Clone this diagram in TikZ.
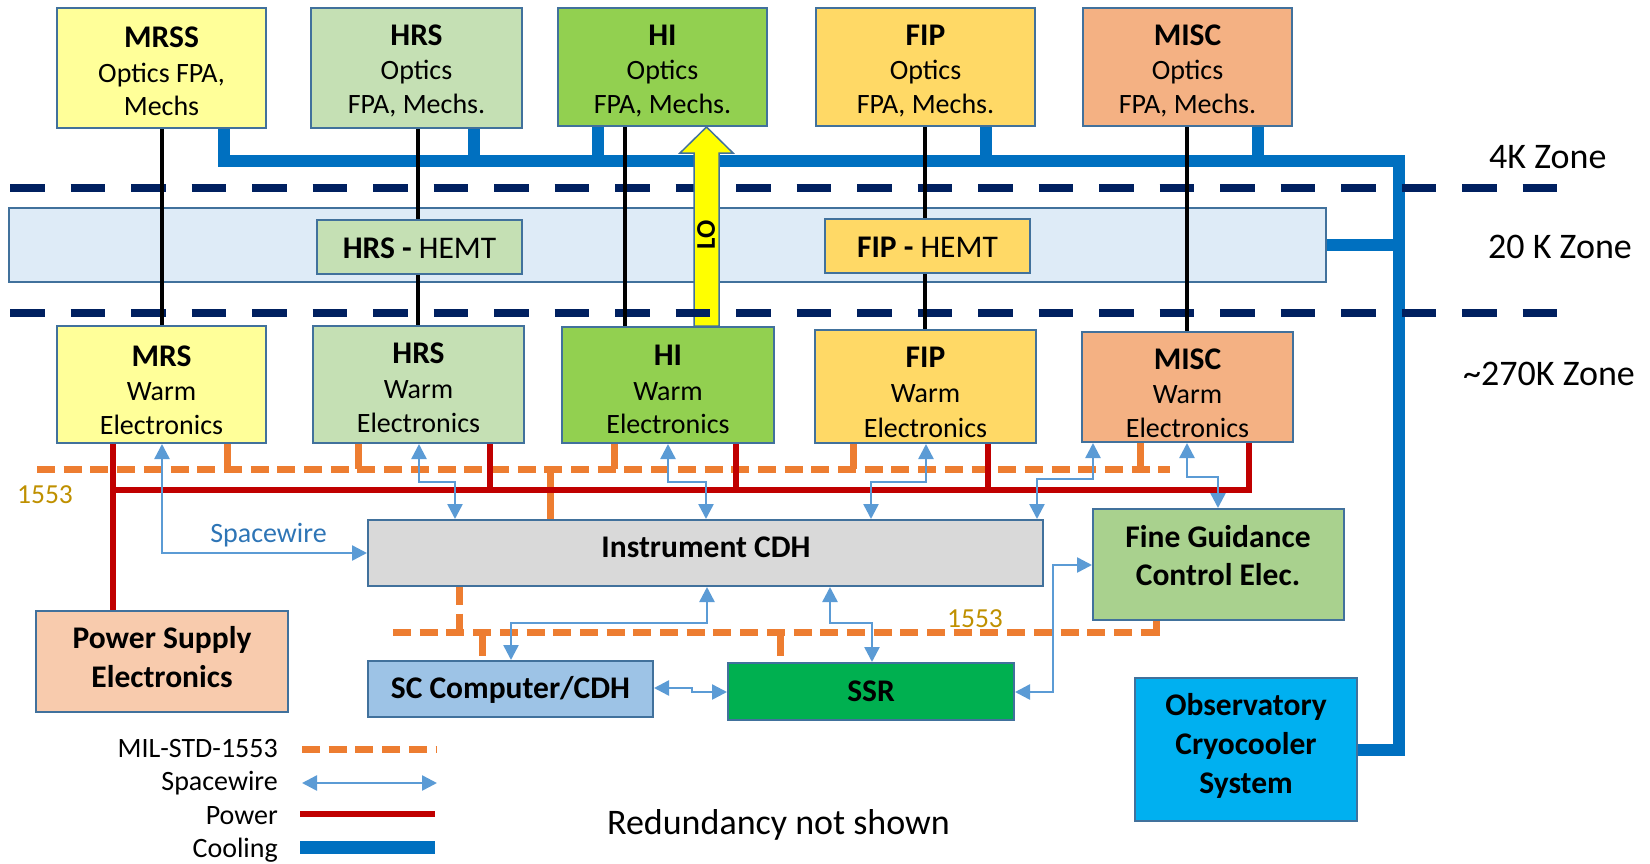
\documentclass[tikz,border=0pt]{standalone}
\usepackage{fontspec}
\setmainfont{Carlito}
\usetikzlibrary{arrows.meta,fit}
\definecolor{bord}{HTML}{41719C}
\definecolor{cyel}{HTML}{FFFF99}
\definecolor{cgrl}{HTML}{C5E0B4}
\definecolor{cgrh}{HTML}{92D050}
\definecolor{cgold}{HTML}{FFD966}
\definecolor{corg}{HTML}{F4B183}
\definecolor{czone}{HTML}{DEEBF7}
\definecolor{ccdh}{HTML}{D9D9D9}
\definecolor{cfgc}{HTML}{A9D18E}
\definecolor{cpsu}{HTML}{F8CBAD}
\definecolor{csc}{HTML}{9DC3E6}
\definecolor{cssr}{HTML}{00B050}
\definecolor{cobs}{HTML}{00B0F0}
\definecolor{ccool}{HTML}{0070C0}
\definecolor{cnavy}{HTML}{002060}
\definecolor{cpow}{HTML}{C00000}
\definecolor{cbus}{HTML}{ED7D31}
\definecolor{csw}{HTML}{5B9BD5}
\definecolor{cswt}{HTML}{2E75B6}
\definecolor{cgoldt}{HTML}{BF9000}
\definecolor{clo}{HTML}{FFFF00}
\begin{document}
\begin{tikzpicture}[x=1pt,y=-1pt,
  box/.style={draw=bord,line width=2pt,inner sep=0pt},
  ttl/.style={font=\fontsize{31.5}{36}\selectfont\bfseries,anchor=base,inner sep=0pt},
  bdy/.style={font=\fontsize{28}{33}\selectfont,anchor=base,inner sep=0pt},
  zonet/.style={font=\fontsize{36}{40}\selectfont,anchor=base west,inner sep=0pt},
  legt/.style={font=\fontsize{28}{32}\selectfont,anchor=base east,inner sep=0pt},
  cool/.style={draw=ccool,line width=12pt,line join=miter},
  zoneline/.style={draw=cnavy,line width=8pt,dash pattern=on 34.5pt off 26pt},
  sig/.style={draw=black,line width=4.5pt},
  pwr/.style={draw=cpow,line width=6pt,line join=miter},
  bus/.style={draw=cbus,line width=7pt,dash pattern=on 18pt off 8.7pt},
  busS/.style={draw=cbus,line width=7pt},
  sw/.style={draw=csw,line width=2.5pt,{Triangle[length=15pt,width=15pt]}-{Triangle[length=15pt,width=15pt]}}
]
\useasboundingbox (0,0) rectangle (1650,863);

% 20 K zone band
\node[box,fill=czone,fit={(9,208) (1326,282)}] (z20) {};

% cooling network
\coordinate (ck1) at (224,161);
\coordinate (ck2) at (1399,161);
\coordinate (ck3) at (1399,750);
\coordinate (ck4) at (1399,245);

% top boxes (4K)
\node[box,fill=cyel,fit={(57,8) (266,128)}] (mrss) {};
\node[box,fill=cgrl,fit={(311,8) (522,128)}] (hrs) {};
\node[box,fill=cgrh,fit={(558,8) (767,126)}] (hi) {};
\node[box,fill=cgold,fit={(816,8) (1035,126)}] (fip) {};
\node[box,fill=corg,fit={(1083,8) (1292,126)}] (misc) {};

% warm boxes
\node[box,fill=cyel,fit={(57,326) (266,443)}] (mrsw) {};
\node[box,fill=cgrl,fit={(313,326) (524,443)}] (hrsw) {};
\node[box,fill=cgrh,fit={(562,327) (774,443)}] (hiw) {};
\node[box,fill=cgold,fit={(815,330) (1036,443)}] (fipw) {};
\node[box,fill=corg,fit={(1082,332) (1293,442)}] (miscw) {};

% lower boxes
\node[box,fill=ccdh,fit={(368,520) (1043,586)}] (cdh) {};
\node[box,fill=cfgc,fit={(1093,509) (1344,620)}] (fgc) {};
\node[box,fill=cpsu,fit={(36,611) (288,712)}] (psu) {};
\node[box,fill=csc,fit={(368,661) (653,717)}] (sc) {};
\node[box,fill=cssr,fit={(728,663) (1014,720)}] (ssr) {};
\node[box,fill=cobs,fit={(1135,678) (1357,821)}] (obs) {};

\draw[cool] (mrss.south -| ck1) -- (ck1) -- (ck2) -- (ck3) -- (obs.east |- ck3);
\draw[cool] (hrs.south -| 474,0) -- (474,161);
\draw[cool] (hi.south -| 598,0) -- (598,161);
\draw[cool] (fip.south -| 986,0) -- (986,161);
\draw[cool] (misc.south -| 1258,0) -- (1258,161);
\draw[cool] (z20.east |- ck4) -- (ck4);

% HEMT boxes
\node[box,fill=cgrl,fit={(317,220) (522,274)}] (hrsh) {};
\node[box,fill=cgold,fit={(825,219) (1030,273)}] (fiph) {};

% top zone line
\draw[zoneline] (10,188) -- (1557,188);

% LO arrow
\draw[draw=bord,line width=1.5pt,fill=clo] (hiw.north -| 694,0) -- (694,153) -- (680,153) -- (hi.south -| 706.5,0) -- (733,153) -- (719,153) -- (hiw.north -| 719,0) -- cycle;
\node[font=\fontsize{27}{30}\selectfont\bfseries,rotate=90,inner sep=0pt] (lo) at (706,235) {LO};

% bottom zone line
\draw[zoneline] (10,313) -- (1557,313);

% black signal lines
\draw[sig] (mrss.south -| 162,0) -- (mrsw.north -| 162,0);
\draw[sig] (hrs.south -| 418,0) -- (hrsh.north -| 418,0);
\draw[sig] (hrsh.south -| 418,0) -- (hrsw.north -| 418,0);
\draw[sig] (hi.south -| 625,0) -- (hiw.north -| 625,0);
\draw[sig] (fip.south -| 925,0) -- (fiph.north -| 925,0);
\draw[sig] (fiph.south -| 925,0) -- (fipw.north -| 925,0);
\draw[sig] (misc.south -| 1187,0) -- (miscw.north -| 1187,0);

% 1553 buses
\draw[bus] (37,469) -- (1170,469);
\draw[busS] (mrsw.south -| 227,0) -- (227,469);
\draw[busS] (hrsw.south -| 358,0) -- (358,469);
\draw[busS] (hiw.south -| 614,0) -- (614,469);
\draw[busS] (fipw.south -| 853,0) -- (853,469);
\draw[busS] (miscw.south -| 1140,0) -- (1140,469);
\draw[busS] (550,469) -- (cdh.north -| 550,0);
\draw[bus] (393,632) -- (1156,632);
\draw[busS] (1156,635.5) -- (fgc.south -| 1156,0);
\draw[bus] (cdh.south -| 459,0) -- (459,632);
\draw[busS] (482,632) -- (482,656);
\draw[busS] (780,632) -- (780,656);

% power
\draw[pwr] (mrsw.south -| 113,0) -- (psu.north -| 113,0);
\draw[pwr] (113,490) -- (1249,490) -- (miscw.south -| 1249,0);
\draw[pwr] (hrsw.south -| 490,0) -- (490,490);
\draw[pwr] (hiw.south -| 736,0) -- (736,490);
\draw[pwr] (fipw.south -| 988,0) -- (988,490);

% spacewire
\draw[sw] (mrsw.south -| 162,0) -- (162,553) -- (cdh.west |- 0,553);
\draw[sw] (hrsw.south -| 419,0) -- (419,482) -- (455,482) -- (cdh.north -| 455,0);
\draw[sw] (hiw.south -| 668,0) -- (668,482) -- (706,482) -- (cdh.north -| 706,0);
\draw[sw] (fipw.south -| 926,0) -- (926,482) -- (871,482) -- (cdh.north -| 871,0);
\draw[sw] (miscw.south -| 1093,0) -- (1093,479) -- (1037,479) -- (cdh.north -| 1037,0);
\draw[sw] (miscw.south -| 1187,0) -- (1187,477) -- (1218,477) -- (fgc.north -| 1218,0);
\draw[sw] (cdh.south -| 707,0) -- (707,623) -- (511,623) -- (sc.north -| 511,0);
\draw[sw] (cdh.south -| 830,0) -- (830,623) -- (872,623) -- (ssr.north -| 872,0);
\draw[sw] (sc.east |- 0,688) -- (692,688) -- (692,692) -- (ssr.west |- 0,692);
\draw[sw] (ssr.east |- 0,692) -- (1053,692) -- (1053,565) -- (fgc.west |- 0,565);

% texts top boxes
\node[ttl] (t1a) at (161.5,47) {MRSS};
\node[bdy] (t1b) at (161.5,82) {Optics FPA,};
\node[bdy] (t1c) at (161.5,115) {Mechs};
\node[ttl] (t2a) at (416.5,45) {HRS};
\node[bdy] (t2b) at (416.5,79) {Optics};
\node[bdy] (t2c) at (416.5,113) {FPA, Mechs.};
\node[ttl] (t3a) at (662.5,45) {HI};
\node[bdy] (t3b) at (662.5,79) {Optics};
\node[bdy] (t3c) at (662.5,113) {FPA, Mechs.};
\node[ttl] (t4a) at (925.5,45) {FIP};
\node[bdy] (t4b) at (925.5,79) {Optics};
\node[bdy] (t4c) at (925.5,113) {FPA, Mechs.};
\node[ttl] (t5a) at (1187.5,45) {MISC};
\node[bdy] (t5b) at (1187.5,79) {Optics};
\node[bdy] (t5c) at (1187.5,113) {FPA, Mechs.};

% HEMT texts
\node[font=\fontsize{31.5}{36}\selectfont,anchor=base,inner sep=0pt] (th1) at (419.5,258) {\textbf{HRS -} HEMT};
\node[font=\fontsize{31.5}{36}\selectfont,anchor=base,inner sep=0pt] (th2) at (927.5,257) {\textbf{FIP -} HEMT};

% warm texts
\node[ttl] (w1a) at (161.5,366) {MRS};
\node[bdy] (w1b) at (161.5,400) {Warm};
\node[bdy] (w1c) at (161.5,434) {Electronics};
\node[ttl] (w2a) at (418.5,363) {HRS};
\node[bdy] (w2b) at (418.5,398) {Warm};
\node[bdy] (w2c) at (418.5,432) {Electronics};
\node[ttl] (w3a) at (668,365) {HI};
\node[bdy] (w3b) at (668,400) {Warm};
\node[bdy] (w3c) at (668,433) {Electronics};
\node[ttl] (w4a) at (925.5,367) {FIP};
\node[bdy] (w4b) at (925.5,402) {Warm};
\node[bdy] (w4c) at (925.5,437) {Electronics};
\node[ttl] (w5a) at (1187.5,369) {MISC};
\node[bdy] (w5b) at (1187.5,403) {Warm};
\node[bdy] (w5c) at (1187.5,437) {Electronics};

% zone labels
\node[zonet] (z4t) at (1489,168) {4K Zone};
\node[zonet] (z20t) at (1488,258) {20 K Zone};
\node[zonet] (z270t) at (1463,385) {\char`\~270K Zone};

% lower box texts
\node[ttl] (tcdh) at (706,557) {Instrument CDH};
\node[ttl] (tfgc1) at (1218,547) {Fine Guidance};
\node[ttl] (tfgc2) at (1218,585) {Control Elec.};
\node[ttl] (tpsu1) at (162,648) {Power Supply};
\node[ttl] (tpsu2) at (162,687) {Electronics};
\node[ttl] (tsc) at (510.5,698) {SC Computer/CDH};
\node[ttl] (tssr) at (871,701) {SSR};
\node[ttl] (tobs1) at (1246,715) {Observatory};
\node[ttl] (tobs2) at (1246,754) {Cryocooler};
\node[ttl] (tobs3) at (1246,793) {System};

% labels
\node[font=\fontsize{28}{32}\selectfont,text=cswt,anchor=base,inner sep=0pt] (tsw) at (268.5,542) {Spacewire};
\node[font=\fontsize{27.5}{30}\selectfont,text=cgoldt,anchor=base,inner sep=0pt] (t1553a) at (45,503) {1553};
\node[font=\fontsize{27.5}{30}\selectfont,text=cgoldt,anchor=base,inner sep=0pt] (t1553b) at (975,627) {1553};
\node[font=\fontsize{36}{40}\selectfont,anchor=base,inner sep=0pt] (tred) at (778.5,834) {Redundancy not shown};

% legend
\node[legt] (l1) at (278,757) {MIL-STD-1553};
\node[legt] (l2) at (278,790) {Spacewire};
\node[legt] (l3) at (278,824) {Power};
\node[legt] (l4) at (278,857) {Cooling};
\coordinate (l1a) at (302,749); \coordinate (l1b) at (437,749);
\coordinate (l2a) at (302,783); \coordinate (l2b) at (437,783);
\coordinate (l3a) at (300,814); \coordinate (l3b) at (435,814);
\coordinate (l4a) at (300,847); \coordinate (l4b) at (435,847);
\draw[bus] (l1a) -- (l1b);
\draw[sw] (l2a) -- (l2b);
\draw[pwr] (l3a) -- (l3b);
\draw[cool,line width=13pt] (l4a) -- (l4b);
\end{tikzpicture}
\end{document}
